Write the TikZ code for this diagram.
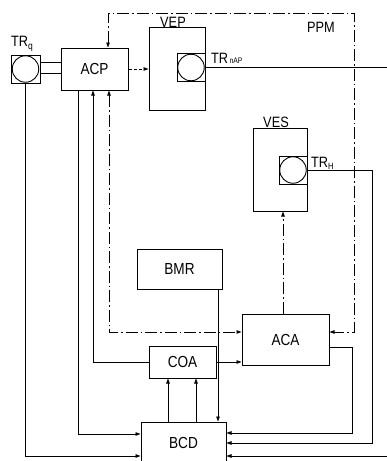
\documentclass[tikz,border=0pt]{standalone}
\usepackage{fontspec}
\setmainfont{Liberation Sans}[FakeStretch=0.85]
\usetikzlibrary{arrows.meta}
\begin{document}
\begin{tikzpicture}[x=1pt,y=-1pt,
  box/.style={draw, line width=1pt, inner sep=0pt, font=\fontsize{16}{16}\selectfont},
  trsq/.style={draw, line width=1pt, inner sep=0pt, minimum width=28pt, minimum height=28pt},
  trc/.style={draw, circle, line width=0.9pt, inner sep=0pt, minimum size=26.5pt},
  ln/.style={line width=0.7pt},
  tip/.tip={Triangle[length=5pt,width=3.5pt]},
  arr/.style={ln, -tip},
  dd/.style={line width=0.8pt, dash pattern=on 12pt off 3pt on 1.5pt off 3pt},
  dsh/.style={line width=0.8pt, dash pattern=on 3pt off 2pt},
  lab/.style={inner sep=0pt, font=\fontsize{15}{15}\selectfont}]
\useasboundingbox (0,0) rectangle (387,461);
% blocks
\node[box, minimum width=67pt, minimum height=42pt] (ACP) at (94.5,69) {ACP};
\node[trsq, minimum width=29pt] (TRq) at (25.5,69) {};
\node[trc] (qc) at (TRq.center) {};
\node[box, minimum width=56pt, minimum height=83pt] (VEP) at (177,68.5) {};
\node[trsq] (NAP) at (191,67.5) {};
\node[trc] (napc) at (NAP.center) {};
\node[box, minimum width=54pt, minimum height=83pt] (VES) at (280,169.5) {};
\node[trsq] (TRH) at (293,170) {};
\node[trc] (trhc) at (TRH.center) {};
\node[box, minimum width=85pt, minimum height=40pt] (BMR) at (179.5,269) {BMR};
\node[box, minimum width=87pt, minimum height=51pt] (ACA) at (285.5,339.5) {ACA};
\node[box, minimum width=67pt, minimum height=32pt] (COA) at (182.5,362) {COA};
\node[box, minimum width=85pt, minimum height=42pt] (BCD) at (183.5,443) {BCD};
% labels
\node[lab, anchor=base west] (lq) at (11,46) {TR\raisebox{-3pt}{\fontsize{10}{10}\selectfont q}};
\node[lab, anchor=base] (lvep) at (173,27) {VEP};
\node[lab, anchor=base] (lves) at (276,127) {VES};
\node[lab, font=\fontsize{15}{15}\selectfont, anchor=base] (lppm) at (321,32) {PPM};
\node[lab, anchor=base west] (lnap) at (211,63) {TR{\fontsize{8}{8}\selectfont\,nAP}};
\node[lab, anchor=base west] (lh) at (311,167) {TR\raisebox{-2pt}{\fontsize{9}{9}\selectfont H}};
% helper coordinates
\coordinate (pTL) at (108,13);
\coordinate (pTR) at (354,13);
\coordinate (pBR) at (354,332);
\coordinate (pBL) at (109,332);
\coordinate (vx) at (283,0);
\coordinate (x78) at (78,0);
\coordinate (x93) at (93,0);
\coordinate (x168) at (168,0);
\coordinate (x196) at (196,0);
\coordinate (x218) at (218,0);
\coordinate (xR) at (387,0);
\coordinate (c1) at (352,433);
\coordinate (c2) at (372,443);
\coordinate (y347) at (0,347);
\coordinate (y434) at (0,434);
\coordinate (y456) at (0,456);
\coordinate (inR) at (387,456);
% connectors
\draw[ln] ([yshift=7pt]TRq.east) -- ([yshift=7pt]TRq.east -| ACP.west);
\draw[ln] ([yshift=-4pt]TRq.east) -- ([yshift=-4pt]TRq.east -| ACP.west);
\draw[dsh, -tip] (ACP.east) -- (ACP.east -| VEP.west);
\draw[ln] (napc.east) -- (napc.east -| xR);
\draw[dd, tip-tip] (ACP.north -| pTL) -- (pTL) -- (pTR) -- (pBR) -- (pBR -| ACA.east);
\draw[dd, tip-tip] (ACP.south -| pBL) -- (pBL) -- (pBL -| ACA.west);
\draw[dd, -tip] (ACA.north -| vx) -- (VES.south -| vx);
\draw[arr] (trhc.east) -| (c2) -- (c2 -| BCD.east);
\draw[arr] (ACA.east |- y347) -| (c1) -- (c1 -| BCD.east);
\draw[arr] (inR) -- (inR -| BCD.east);
\draw[arr] (TRq.south) |- (y456 -| BCD.west);
\draw[arr] (ACP.south -| x78) |- (y434 -| BCD.west);
\draw[arr] (COA.west) -| (ACP.south -| x93);
\draw[arr] (COA.east) -- (COA.east -| ACA.west);
\draw[arr] (BCD.north -| x168) -- (COA.south -| x168);
\draw[arr] (BCD.north -| x196) -- (COA.south -| x196);
\draw[arr] (BMR.south -| x218) -- (BCD.north -| x218);
\end{tikzpicture}
\end{document}
